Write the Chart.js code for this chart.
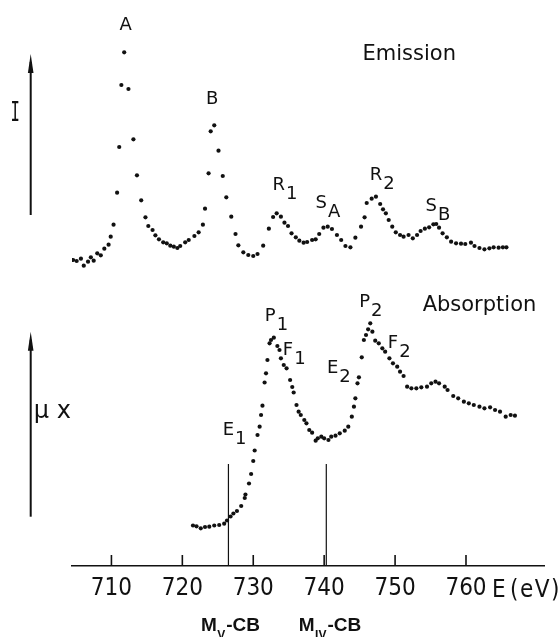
<!DOCTYPE html>
<html><head><meta charset="utf-8">
<script src="https://cdn.jsdelivr.net/npm/chart.js@4.4.1/dist/chart.umd.min.js"></script>
<style>html,body{margin:0;padding:0;background:#fff}#wrap{width:558px;height:637px;position:relative}</style>
</head><body><div id="wrap"><canvas id="c"></canvas></div>
<script>
// ---- data (energy in eV, intensities in arbitrary units) ----
const energyTicks = [710, 720, 730, 740, 750, 760];

const emissionE = [
  704.1,704.6,705.1,705.7,706.1,706.7,707.1,707.5,708.0,708.5,
  709.0,709.6,709.9,710.3,710.8,711.1,711.4,711.8,712.4,713.1,
  713.6,714.2,714.8,715.2,715.8,716.2,716.7,717.3,717.8,718.3,
  718.8,719.3,719.7,720.4,720.9,721.7,722.3,722.9,723.2,723.7,
  724.0,724.5,725.1,725.7,726.2,726.9,727.5,727.9,728.6,729.3,
  730.0,730.6,731.4,732.2,732.8,733.3,733.9,734.4,734.9,735.4,
  736.0,736.5,737.1,737.6,738.3,738.8,739.3,739.9,740.5,741.1,
  741.8,742.4,743.0,743.7,744.4,745.2,745.7,746.0,746.7,747.3,
  747.9,748.3,748.7,749.1,749.6,750.1,750.7,751.2,751.9,752.5,
  753.1,753.6,754.2,754.8,755.4,755.8,756.2,756.7,757.3,757.9,
  758.6,759.3,759.9,760.7,761.2,761.9,762.6,763.3,763.9,764.6,765.2,765.7
];
const emissionI = [
  10.7,10,9,11.3,4.3,8.3,12.7,9.3,16.7,14.7,
  21.3,25.3,33.3,45.3,77.3,123,185,217.7,181,130.7,
  94.7,69.7,52.7,44,40,34.7,30.7,27.7,26.7,24.3,
  23.3,22,24,27.7,30,34,37.7,45.3,61.3,96.7,
  138.7,144.7,119.3,94,72.7,53.3,36,24.7,17.7,15,
  14,16,24.3,41.3,53,56.7,53.3,47.3,44,36.7,
  32.7,29.3,27.3,28,30,30.7,36,42.3,43.3,41,
  35,30,24,22.7,32.3,43.3,52.7,67,71.3,73.3,
  66,60.7,56.7,50,43.3,37.7,35,33.3,35,31.7,
  35,39,41.3,42.7,45.7,46,42.3,36.7,32.7,28.3,
  26.7,26.3,26,27.3,24,22,20.7,21.7,22.7,22.3,22.7,22.7
];

const absorptionE = [
  721.5,722.0,722.6,723.2,723.8,724.5,725.2,725.9,726.3,726.8,
  727.2,727.7,728.3,728.8,728.9,729.4,729.7,730.0,730.2,730.6,
  730.9,731.1,731.3,731.6,731.8,732.0,732.3,732.5,732.9,733.4,
  733.7,733.9,734.3,734.7,735.2,735.5,735.7,736.1,736.4,736.7,
  737.2,737.5,737.9,738.3,738.8,739.1,739.6,740.0,740.6,741.0,
  741.6,742.2,742.9,743.4,743.9,744.2,744.4,744.7,744.9,745.3,
  745.6,745.9,746.2,746.5,746.8,747.2,747.7,748.2,748.6,749.2,
  749.7,750.3,750.7,751.2,751.7,752.3,753.0,753.7,754.5,755.1,
  755.7,756.2,757.0,757.4,758.2,758.9,759.7,760.4,761.1,761.9,
  762.6,763.4,764.1,764.8,765.6,766.3,766.9
];
const absorptionMu = [
  14.5,13.7,11.7,13,13.3,14.5,15,16.3,19.5,23.5,
  26.5,29,34,42,45.5,56.5,66,79,89.5,105,
  113.3,125,134.3,157.5,166.7,180,196.7,200,202.3,194,
  190,181.7,175,171.7,160,153,147.5,135,128.3,125,
  120,116.7,110,107.3,99.3,101.7,103.3,101.7,100,103.3,
  104.3,106.7,109.3,113.3,123.3,133.3,141.7,156.7,162.7,182.7,
  200,205,210.7,216.7,208.3,199.3,196.7,191.7,188.3,181.7,
  176.7,173.3,168.3,164,153.3,151.7,151.7,152.7,153.3,156.7,
  158.3,156.7,153.3,150,144,141.7,138.3,136.7,135,133.3,
  131.7,132.7,130,128.3,123.3,125,124.3
];

const edgeEnergies = [726.5, 740.3];
const edgeSubs = ['V', 'IV'];

// annotation anchors (energy, value on the series axis)
const annotations = [
  {axis:'yE', main:'A', sub:'',  e:712.0, v:246.7},
  {axis:'yE', main:'B', sub:'',  e:724.2, v:172.5},
  {axis:'yE', main:'R', sub:'1', e:733.6, v:87},
  {axis:'yE', main:'S', sub:'A', e:739.6, v:68.3},
  {axis:'yE', main:'R', sub:'2', e:747.3, v:96.7},
  {axis:'yE', main:'S', sub:'B', e:755.1, v:66},
  {axis:'yA', main:'P', sub:'1', e:732.4, v:226},
  {axis:'yA', main:'F', sub:'1', e:734.9, v:191.7},
  {axis:'yA', main:'E', sub:'1', e:726.5, v:111.7},
  {axis:'yA', main:'E', sub:'2', e:741.2, v:174},
  {axis:'yA', main:'P', sub:'2', e:745.7, v:240},
  {axis:'yA', main:'F', sub:'2', e:749.7, v:198.3}
];

const INK = '#111111';
const LETTER = "'DejaVu Sans', 'Liberation Sans', sans-serif";
const BOLD = "'Liberation Sans', 'DejaVu Sans', sans-serif";
const DIGIT = "'Liberation Sans Narrow', 'DejaVu Sans Condensed', 'Liberation Sans', sans-serif";

const decor = {
  id: 'decor',
  afterDraw(chart) {
    const {ctx, chartArea: ca, scales} = chart;
    const x = scales.x, yE = scales.yE, yA = scales.yA;
    ctx.save();
    ctx.fillStyle = INK; ctx.strokeStyle = INK; ctx.lineCap = 'butt';
    const line = (x1, y1, x2, y2, w) => { ctx.lineWidth = w; ctx.beginPath(); ctx.moveTo(x1, y1); ctx.lineTo(x2, y2); ctx.stroke(); };

    // tick marks pointing up
    energyTicks.forEach(t => { const p = x.getPixelForValue(t); line(p, ca.bottom, p, ca.bottom - 11, 1.6); });

    // edge markers
    edgeEnergies.forEach((e, i) => {
      const p = x.getPixelForValue(e);
      line(p, yA.getPixelForValue(76), p, ca.bottom, 1.2);
      const lx = p - 27.5, base = ca.bottom + 65;
      ctx.textAlign = 'left'; ctx.textBaseline = 'alphabetic';
      ctx.font = `bold 19px ${BOLD}`;
      ctx.fillText('M', lx, base);
      const w = ctx.measureText('M').width;
      ctx.font = `bold 12px ${BOLD}`;
      ctx.fillText(edgeSubs[i], lx + w + 0.5, base + 8);
      const w2 = ctx.measureText(edgeSubs[i]).width;
      ctx.font = `bold 19px ${BOLD}`;
      ctx.fillText('-CB', lx + w + w2 + 1.5, base);
    });

    // intensity arrows
    const arrow = (px, yBot, yTip) => {
      line(px, yBot, px, yTip + 8, 2);
      ctx.beginPath(); ctx.moveTo(px, yTip); ctx.lineTo(px - 2.8, yTip + 19); ctx.lineTo(px + 2.8, yTip + 19); ctx.closePath(); ctx.fill();
    };
    const ax = ca.left - 41.3;
    arrow(ax, yE.getPixelForValue(55), yE.getPixelForValue(216));
    arrow(ax, yA.getPixelForValue(23.3), yA.getPixelForValue(208.3));

    // "I" label
    ctx.save();
    ctx.font = `26px 'DejaVu Sans Mono', monospace`;
    ctx.textAlign = 'center'; ctx.textBaseline = 'alphabetic';
    const iy = yE.getPixelForValue(158) + 0.365 * 26;
    ctx.translate(ca.left - 56.7, iy); ctx.scale(0.6, 1);
    ctx.fillText('I', 0, 0);
    ctx.restore();

    // "μx" label
    ctx.font = `24px ${LETTER}`;
    ctx.textAlign = 'center'; ctx.textBaseline = 'alphabetic';
    ctx.fillText('\u03BC x', ca.left - 19.7, yA.getPixelForValue(121.7));

    // series titles
    ctx.font = `21px ${LETTER}`;
    ctx.fillText('Emission', x.getPixelForValue(752.0), yE.getPixelForValue(217.3) + 0.365 * 21);
    ctx.fillText('Absorption', x.getPixelForValue(761.9), yA.getPixelForValue(236.7) + 0.365 * 21);

    // peak labels
    const size = 18;
    annotations.forEach(a => {
      const cx = x.getPixelForValue(a.e);
      const cy = scales[a.axis].getPixelForValue(a.v);
      ctx.font = `${size}px ${LETTER}`;
      ctx.textAlign = 'center'; ctx.textBaseline = 'alphabetic';
      const base = cy + 0.365 * size;
      ctx.fillText(a.main, cx, base);
      if (a.sub) {
        const w = ctx.measureText(a.main).width;
        ctx.textAlign = 'left';
        ctx.fillText(a.sub, cx + w / 2 + 1, base + 9);
      }
    });

    // axis title
    ctx.font = `24px ${DIGIT}`;
    ctx.textAlign = 'left'; ctx.textBaseline = 'alphabetic';
    const ex = x.getPixelForValue(760) + 26;
    ctx.fillText('E', ex, ca.bottom + 31);
    try { ctx.letterSpacing = '1.5px'; } catch (e) {}
    ctx.fillText('(eV)', ex + 18, ca.bottom + 31);
    ctx.restore();
  }
};

const toXY = (xs, ys) => xs.map((v, i) => ({x: v, y: ys[i]}));
const dotStyle = {pointRadius: 2.1, pointBackgroundColor: INK, pointBorderWidth: 0, pointBorderColor: INK, showLine: false};

new Chart(document.getElementById('c'), {
  type: 'scatter',
  data: {
    datasets: [
      Object.assign({label: 'Emission', data: toXY(emissionE, emissionI), yAxisID: 'yE'}, dotStyle),
      Object.assign({label: 'Absorption', data: toXY(absorptionE, absorptionMu), yAxisID: 'yA'}, dotStyle)
    ]
  },
  options: {
    responsive: true, maintainAspectRatio: false, animation: false, devicePixelRatio: 1, events: [],
    layout: {padding: {left: 72, right: 14, top: 10, bottom: 0}},
    plugins: {legend: {display: false}, tooltip: {enabled: false}},
    scales: {
      x: {
        type: 'linear', min: 704.44, max: 771.0,
        afterBuildTicks: s => { s.ticks = energyTicks.map(v => ({value: v})); },
        afterFit: s => { s.height = 71; },
        grid: {display: false, drawTicks: false},
        border: {display: true, color: INK, width: 1.6},
        ticks: {autoSkip: false, maxRotation: 0, padding: 8, color: INK, font: {family: DIGIT, size: 24}, callback: v => String(v)}
      },
      yE: {type: 'linear', display: false, min: -296, max: 260},
      yA: {type: 'linear', display: false, min: -26, max: 530}
    }
  },
  plugins: [decor]
});
</script></body></html>
